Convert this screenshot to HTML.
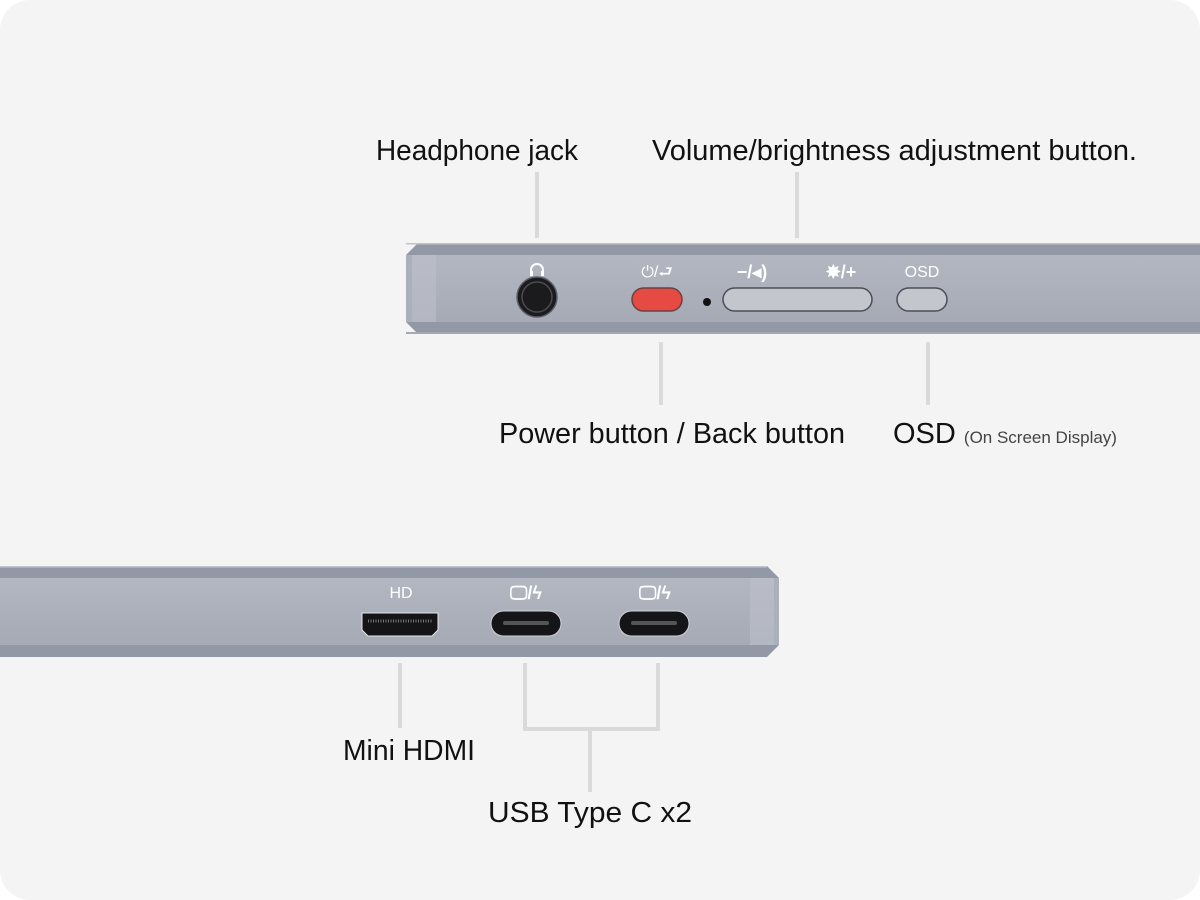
<!DOCTYPE html>
<html><head><style>
html,body{margin:0;padding:0;background:#fff}
svg{display:block}
text{font-family:"Liberation Sans",sans-serif}
</style></head><body>
<svg width="1200" height="900" viewBox="0 0 1200 900" xmlns="http://www.w3.org/2000/svg">
<defs>
<linearGradient id="face" x1="0" y1="0" x2="0" y2="1">
<stop offset="0" stop-color="#b3b7c1"/><stop offset="1" stop-color="#a6aab5"/></linearGradient>
</defs>
<rect x="0" y="0" width="1200" height="900" rx="30" fill="#f4f4f4"/>
<!-- top bar -->
<polygon points="418,243 1200,243 1200,334 418,334 406,322 406,255" fill="#9298a6"/>
<rect x="412" y="255" width="788" height="67" fill="url(#face)"/>
<rect x="406" y="255" width="30" height="67" fill="#bcc0c9" opacity="0.6"/>
<rect x="406" y="243" width="794" height="1.5" fill="#c0c4cc"/>
<rect x="406" y="332" width="794" height="2" fill="#a3a8b3"/>
<!-- jack -->
<circle cx="537" cy="297" r="20" fill="#1b1b1d" stroke="#5a5e66" stroke-width="1.5"/>
<circle cx="537" cy="297" r="15" fill="none" stroke="#4a4c52" stroke-width="1.5"/>
<path d="M531,274 v-4 a6,6 0 0 1 12,0 v4" fill="none" stroke="#fff" stroke-width="2"/>
<rect x="530" y="271" width="3" height="5" fill="#fff"/><rect x="541" y="271" width="3" height="5" fill="#fff"/>
<!-- buttons -->
<rect x="632" y="288" width="50" height="23" rx="11.5" fill="#e54b42" stroke="#6e4040" stroke-width="1.5"/>
<circle cx="707" cy="302" r="4" fill="#111"/>
<rect x="723" y="288" width="149" height="23" rx="11.5" fill="#c3c6cd" stroke="#4a4e58" stroke-width="1.5"/>
<rect x="897" y="288" width="50" height="23" rx="11.5" fill="#c3c6cd" stroke="#4a4e58" stroke-width="1.5"/>
<text x="657" y="277" font-size="16" fill="#fff" text-anchor="middle">⏻/⮐</text>
<text x="752" y="278" font-size="18" fill="#fff" font-weight="bold" text-anchor="middle">−/◂)</text>
<text x="841" y="278" font-size="18" fill="#fff" font-weight="bold" text-anchor="middle">✸/+</text>
<text x="922" y="277" font-size="16" fill="#fff" text-anchor="middle">OSD</text>
<!-- bottom bar -->
<polygon points="0,566 767,566 779,578 779,645 767,657 0,657" fill="#9298a6"/>
<rect x="0" y="578" width="774" height="67" fill="url(#face)"/>
<rect x="750" y="578" width="29" height="67" fill="#bcc0c9" opacity="0.6"/>
<rect x="0" y="566" width="767" height="1.5" fill="#c0c4cc"/>
<!-- hdmi -->
<path d="M362,613 H438 V630 L432,636 H368 L362,630 Z" fill="#151517" stroke="#e6e8ec" stroke-width="1"/>
<line x1="368" y1="621" x2="432" y2="621" stroke="#777" stroke-width="3" stroke-dasharray="1,1.5"/>
<text x="401" y="598" font-size="16" fill="#fff" text-anchor="middle">HD</text>
<rect x="491" y="611" width="70" height="25" rx="12.5" fill="#151517" stroke="#d0d3d8" stroke-width="1"/>
<rect x="503" y="621" width="46" height="4" rx="2" fill="#555"/>
<rect x="619" y="611" width="70" height="25" rx="12.5" fill="#151517" stroke="#d0d3d8" stroke-width="1"/>
<rect x="631" y="621" width="46" height="4" rx="2" fill="#555"/>
<text x="526" y="599" font-size="18" fill="#fff" font-weight="bold" text-anchor="middle">🖵/ϟ</text>
<text x="655" y="599" font-size="18" fill="#fff" font-weight="bold" text-anchor="middle">🖵/ϟ</text>
<!-- leader lines -->
<g stroke="#dadada" stroke-width="4" fill="none">
<line x1="537" y1="172" x2="537" y2="238"/>
<line x1="797" y1="172" x2="797" y2="238"/>
<line x1="661" y1="342" x2="661" y2="405"/>
<line x1="928" y1="342" x2="928" y2="405"/>
<line x1="400" y1="663" x2="400" y2="728"/>
<polyline points="525,663 525,729 658,729 658,663"/>
<line x1="590" y1="729" x2="590" y2="792"/>
</g>
<!-- labels -->
<g font-size="29" fill="#111">
<text x="376" y="160" textLength="202" lengthAdjust="spacingAndGlyphs">Headphone jack</text>
<text x="652" y="160" textLength="485" lengthAdjust="spacingAndGlyphs">Volume/brightness adjustment button.</text>
<text x="499" y="443" textLength="346" lengthAdjust="spacingAndGlyphs">Power button / Back button</text>
<text x="893" y="443">OSD <tspan font-size="17" fill="#444">(On Screen Display)</tspan></text>
<text x="343" y="760" textLength="132" lengthAdjust="spacingAndGlyphs">Mini HDMI</text>
<text x="488" y="822" textLength="204" lengthAdjust="spacingAndGlyphs">USB Type C x2</text>
</g>
</svg>
</body></html>
